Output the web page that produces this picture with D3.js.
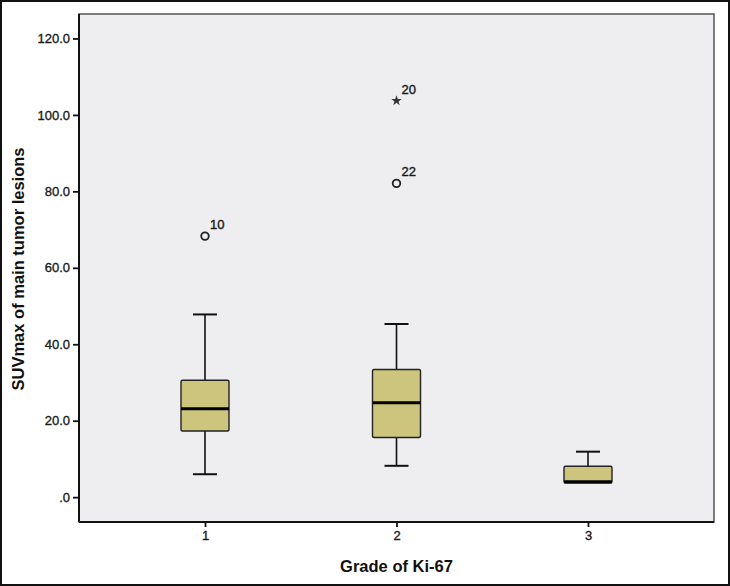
<!DOCTYPE html>
<html>
<head>
<meta charset="utf-8">
<script src="https://cdn.jsdelivr.net/npm/d3@7"></script>
<style>
  body { margin: 0; background: #fff; }
  svg { display: block; font-family: "Liberation Sans", Arial, sans-serif; }
</style>
</head>
<body>
<svg id="chart" width="730" height="586"></svg>
<script>
const grades = ["1", "2", "3"];
const whiskerLow = [6.0, 8.2, 3.7];
const q1 = [17.3, 15.6, 3.7];
const median = [23.1, 24.7, 4.0];
const q3 = [30.6, 33.4, 8.1];
const whiskerHigh = [47.8, 45.3, 11.9];
// outliers: [grade, value, case label, kind]
const outliers = [
  ["1", 68.3, "10", "circle"],
  ["2", 82.1, "22", "circle"],
  ["2", 103.7, "20", "star"]
];
const yTicks = [0, 20, 40, 60, 80, 100, 120];

const svg = d3.select("#chart");
const width = +svg.attr("width");
const height = +svg.attr("height");

const plot = { left: 79, top: 14, right: 714, bottom: 522 };

const x = d3.scalePoint()
  .domain(grades)
  .range([plot.left, plot.right])
  .padding(0.658);

const y = d3.scaleLinear()
  .domain([-6.5, 126.4])
  .range([plot.bottom, plot.top]);

// outer frame
svg.append("rect")
  .attr("x", 1).attr("y", 1)
  .attr("width", width - 2).attr("height", height - 2)
  .attr("fill", "#fff")
  .attr("stroke", "#111")
  .attr("stroke-width", 2);

// plot background
svg.append("rect")
  .attr("x", plot.left).attr("y", plot.top)
  .attr("width", plot.right - plot.left)
  .attr("height", plot.bottom - plot.top)
  .attr("fill", "#eeeef0")
  .attr("stroke", "#555")
  .attr("stroke-width", 1.5);

// axes
const yAxis = svg.append("g")
  .attr("transform", `translate(${plot.left},0)`)
  .call(d3.axisLeft(y).tickValues(yTicks).tickSize(6).tickPadding(3)
    .tickFormat(d => d === 0 ? ".0" : d3.format(".1f")(d)));

const xAxis = svg.append("g")
  .attr("transform", `translate(0,${plot.bottom})`)
  .call(d3.axisBottom(x).tickSize(5).tickPadding(4));

[yAxis, xAxis].forEach(g => {
  g.select(".domain").remove();
  g.selectAll("line").attr("stroke", "#111").attr("stroke-width", 1.8);
  g.selectAll("text")
    .attr("fill", "#1a1a1a")
    .attr("stroke", "#1a1a1a")
    .attr("stroke-width", 0.35)
    .attr("font-size", 13)
    .attr("font-family", "\"Liberation Sans\", Arial, sans-serif");
});

// left and bottom axis lines drawn black
svg.append("line")
  .attr("x1", plot.left).attr("x2", plot.left)
  .attr("y1", plot.top).attr("y2", plot.bottom)
  .attr("stroke", "#111").attr("stroke-width", 2);
svg.append("line")
  .attr("x1", plot.left).attr("x2", plot.right)
  .attr("y1", plot.bottom).attr("y2", plot.bottom)
  .attr("stroke", "#111").attr("stroke-width", 2);

// boxes
const boxWidth = 48;
const capWidth = 24;
const boxes = svg.append("g");

grades.forEach((g, i) => {
  const cx = x(g);
  const grp = boxes.append("g");

  grp.append("line")
    .attr("x1", cx).attr("x2", cx)
    .attr("y1", y(whiskerHigh[i])).attr("y2", y(q3[i]))
    .attr("stroke", "#111").attr("stroke-width", 1.6);
  grp.append("line")
    .attr("x1", cx).attr("x2", cx)
    .attr("y1", y(q1[i])).attr("y2", y(whiskerLow[i]))
    .attr("stroke", "#111").attr("stroke-width", 1.6);

  [whiskerHigh[i], whiskerLow[i]].forEach(v => {
    if (v === q1[i]) return;
    grp.append("line")
      .attr("x1", cx - capWidth / 2).attr("x2", cx + capWidth / 2)
      .attr("y1", y(v)).attr("y2", y(v))
      .attr("stroke", "#111").attr("stroke-width", 2);
  });

  grp.append("rect")
    .attr("x", cx - boxWidth / 2)
    .attr("y", y(q3[i]))
    .attr("width", boxWidth)
    .attr("height", y(q1[i]) - y(q3[i]))
    .attr("rx", 1.5)
    .attr("fill", "#cdc57d")
    .attr("stroke", "#222")
    .attr("stroke-width", 1.4);

  grp.append("line")
    .attr("x1", cx - boxWidth / 2).attr("x2", cx + boxWidth / 2)
    .attr("y1", y(median[i])).attr("y2", y(median[i]))
    .attr("stroke", "#000").attr("stroke-width", 3);
});

// outliers
const outG = svg.append("g");
outliers.forEach(([g, v, label, kind]) => {
  const cx = x(g);
  const cy = y(v);
  if (kind === "circle") {
    outG.append("circle")
      .attr("cx", cx).attr("cy", cy).attr("r", 3.8)
      .attr("fill", "none").attr("stroke", "#222").attr("stroke-width", 1.8);
  } else {
    outG.append("path")
      .attr("transform", `translate(${cx},${cy})`)
      .attr("d", d3.symbol().type(d3.symbolStar).size(34)())
      .attr("fill", "#333");
  }
  outG.append("text")
    .attr("x", cx + 5).attr("y", cy - 7)
    .attr("font-size", 13)
    .attr("fill", "#1a1a1a")
    .attr("stroke", "#1a1a1a")
    .attr("stroke-width", 0.4)
    .text(label);
});

// axis titles
svg.append("text")
  .attr("transform", "rotate(-90)")
  .attr("x", -269).attr("y", 24)
  .attr("text-anchor", "middle")
  .attr("font-size", 16.5)
  .attr("font-weight", "bold")
  .attr("fill", "#111")
  .text("SUVmax of main tumor lesions");

svg.append("text")
  .attr("x", (plot.left + plot.right) / 2)
  .attr("y", 572)
  .attr("text-anchor", "middle")
  .attr("font-size", 16.5)
  .attr("font-weight", "bold")
  .attr("fill", "#111")
  .text("Grade of Ki-67");
</script>
</body>
</html>
